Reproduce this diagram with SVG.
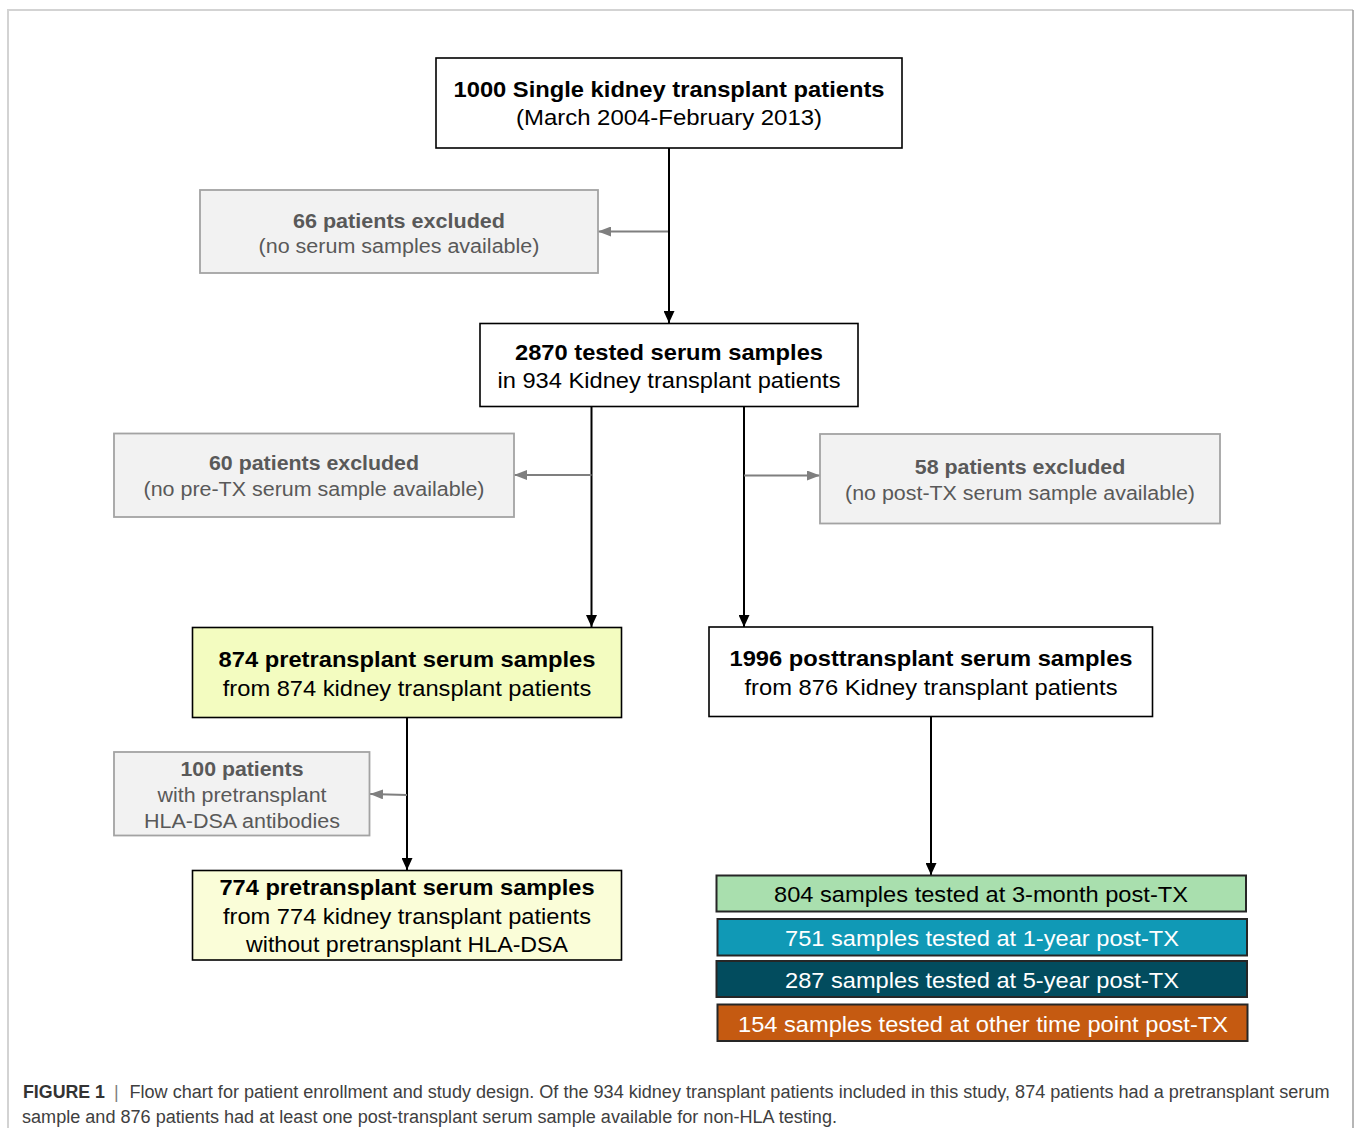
<svg xmlns="http://www.w3.org/2000/svg" width="1354" height="1128" viewBox="0 0 1354 1128">
<style>
  text { font-family: "Liberation Sans", Arial, sans-serif; text-anchor: middle; }
  .t { font-size: 21.5px; fill: #000; }
  .b { font-weight: bold; }
  .g { font-size: 19.5px; fill: #595959; }
  .w { font-size: 21.5px; fill: #fff; }
  .box { fill: #fff; stroke: #000; stroke-width: 1.6; }
  .gbox { fill: #f2f2f2; stroke: #a3a3a3; stroke-width: 1.8; }
  .cbox { stroke: #262626; stroke-width: 2; }
  .con { stroke: #000; stroke-width: 2; fill: none; }
  .gcon { stroke: #7f7f7f; stroke-width: 2; fill: none; }
  .cap { font-size: 18px; fill: #404040; text-anchor: start; }
</style>
<defs>
  <marker id="ah" viewBox="0 0 12 11" refX="12" refY="5.5" markerWidth="12" markerHeight="11" orient="auto" markerUnits="userSpaceOnUse">
    <path d="M0,0 L12,5.5 L0,11 z" fill="#000"/>
  </marker>
  <marker id="gah" viewBox="0 0 13 10" refX="13" refY="5" markerWidth="13" markerHeight="10" orient="auto" markerUnits="userSpaceOnUse">
    <path d="M0,0 L13,5 L0,10 z" fill="#7f7f7f"/>
  </marker>
</defs>

<rect x="0" y="0" width="1354" height="1128" fill="#fff"/>
<g id="frame">
  <path d="M8,1128 L8,10 L1353,10" fill="none" stroke="#d3d3d3" stroke-width="2"/>
  <path d="M1353,10 L1353,1128" fill="none" stroke="#9e9e9e" stroke-width="1.5"/>
</g>

<g id="connectors">
  <line class="con" x1="669" y1="148" x2="669" y2="323" marker-end="url(#ah)"/>
  <line class="gcon" x1="668" y1="231.5" x2="598" y2="231.5" marker-end="url(#gah)"/>
  <line class="con" x1="591.5" y1="406" x2="591.5" y2="627" marker-end="url(#ah)"/>
  <line class="gcon" x1="591.5" y1="475" x2="514" y2="475" marker-end="url(#gah)"/>
  <line class="con" x1="744" y1="406" x2="744" y2="627" marker-end="url(#ah)"/>
  <line class="gcon" x1="744" y1="475.5" x2="820" y2="475.5" marker-end="url(#gah)"/>
  <line class="con" x1="407" y1="717" x2="407" y2="870" marker-end="url(#ah)"/>
  <line class="gcon" x1="407" y1="795" x2="370" y2="794" marker-end="url(#gah)"/>
  <line class="con" x1="931" y1="716.5" x2="931" y2="875" marker-end="url(#ah)"/>
</g>

<g id="n1000">
  <rect class="box" x="436" y="58" width="466" height="90"/>
  <text class="t b" x="669" y="97" textLength="431" lengthAdjust="spacingAndGlyphs">1000 Single kidney transplant patients</text>
  <text class="t" x="669" y="125" textLength="306" lengthAdjust="spacingAndGlyphs">(March 2004-February 2013)</text>
</g>

<g id="n66">
  <rect class="gbox" x="200" y="190" width="398" height="83"/>
  <text class="g b" x="399" y="227.5" textLength="212" lengthAdjust="spacingAndGlyphs">66 patients excluded</text>
  <text class="g" x="399" y="252.5" textLength="281" lengthAdjust="spacingAndGlyphs">(no serum samples available)</text>
</g>

<g id="n2870">
  <rect class="box" x="480" y="323.5" width="378" height="83"/>
  <text class="t b" x="669" y="359.5" textLength="308" lengthAdjust="spacingAndGlyphs">2870 tested serum samples</text>
  <text class="t" x="669" y="388" textLength="343" lengthAdjust="spacingAndGlyphs">in 934 Kidney transplant patients</text>
</g>

<g id="n60">
  <rect class="gbox" x="114" y="433.5" width="400" height="83.5"/>
  <text class="g b" x="314" y="470" textLength="210" lengthAdjust="spacingAndGlyphs">60 patients excluded</text>
  <text class="g" x="314" y="496" textLength="341" lengthAdjust="spacingAndGlyphs">(no pre-TX serum sample available)</text>
</g>

<g id="n58">
  <rect class="gbox" x="820" y="434" width="400" height="89.5"/>
  <text class="g b" x="1020" y="473.5" textLength="210.5" lengthAdjust="spacingAndGlyphs">58 patients excluded</text>
  <text class="g" x="1020" y="499.5" textLength="350" lengthAdjust="spacingAndGlyphs">(no post-TX serum sample available)</text>
</g>

<g id="n874">
  <rect class="box" x="192.5" y="627.5" width="429" height="90" style="fill:#f3fcc0"/>
  <text class="t b" x="407" y="667" textLength="377" lengthAdjust="spacingAndGlyphs">874 pretransplant serum samples</text>
  <text class="t" x="407" y="695.5" textLength="368.5" lengthAdjust="spacingAndGlyphs">from 874 kidney transplant patients</text>
</g>

<g id="n1996">
  <rect class="box" x="709" y="627" width="443.5" height="89.5"/>
  <text class="t b" x="931" y="666" textLength="403" lengthAdjust="spacingAndGlyphs">1996 posttransplant serum samples</text>
  <text class="t" x="931" y="694.5" textLength="373" lengthAdjust="spacingAndGlyphs">from 876 Kidney transplant patients</text>
</g>

<g id="n100">
  <rect class="gbox" x="114" y="752" width="255.5" height="83.5"/>
  <text class="g b" x="242" y="776" textLength="123" lengthAdjust="spacingAndGlyphs">100 patients</text>
  <text class="g" x="242" y="802" textLength="169" lengthAdjust="spacingAndGlyphs">with pretransplant</text>
  <text class="g" x="242" y="828" textLength="196" lengthAdjust="spacingAndGlyphs">HLA-DSA antibodies</text>
</g>

<g id="n774">
  <rect class="box" x="192.5" y="870.5" width="429" height="89.5" style="fill:#fafdd8"/>
  <text class="t b" x="407" y="895" textLength="375" lengthAdjust="spacingAndGlyphs">774 pretransplant serum samples</text>
  <text class="t" x="407" y="923.5" textLength="368" lengthAdjust="spacingAndGlyphs">from 774 kidney transplant patients</text>
  <text class="t" x="407" y="952" textLength="322" lengthAdjust="spacingAndGlyphs">without pretransplant HLA-DSA</text>
</g>

<g id="n804">
  <rect class="cbox" x="716.5" y="875.5" width="529.5" height="36" fill="#a9dfae"/>
  <text class="t" x="981" y="902" textLength="414" lengthAdjust="spacingAndGlyphs">804 samples tested at 3-month post-TX</text>
</g>
<g id="n751">
  <rect class="cbox" x="717.5" y="919" width="529.5" height="36.5" fill="#1099b6"/>
  <text class="w" x="982" y="946" textLength="394" lengthAdjust="spacingAndGlyphs">751 samples tested at 1-year post-TX</text>
</g>
<g id="n287">
  <rect class="cbox" x="716.5" y="961" width="530.5" height="36" fill="#024c5e"/>
  <text class="w" x="982" y="988" textLength="394" lengthAdjust="spacingAndGlyphs">287 samples tested at 5-year post-TX</text>
</g>
<g id="n154">
  <rect class="cbox" x="717.5" y="1004.5" width="530" height="36.5" fill="#c55a11"/>
  <text class="w" x="983" y="1031.5" textLength="490" lengthAdjust="spacingAndGlyphs">154 samples tested at other time point post-TX</text>
</g>

<g id="caption">
  <text class="cap b" x="23" y="1097.5" style="fill:#333" textLength="82" lengthAdjust="spacingAndGlyphs">FIGURE 1</text>
  <text class="cap" x="114" y="1097.5" style="fill:#808080">|</text>
  <text class="cap" x="129.5" y="1097.5" textLength="1200" lengthAdjust="spacingAndGlyphs">Flow chart for patient enrollment and study design. Of the 934 kidney transplant patients included in this study, 874 patients had a pretransplant serum</text>
  <text class="cap" x="22" y="1122.5" textLength="815" lengthAdjust="spacingAndGlyphs">sample and 876 patients had at least one post-transplant serum sample available for non-HLA testing.</text>
</g>
</svg>
